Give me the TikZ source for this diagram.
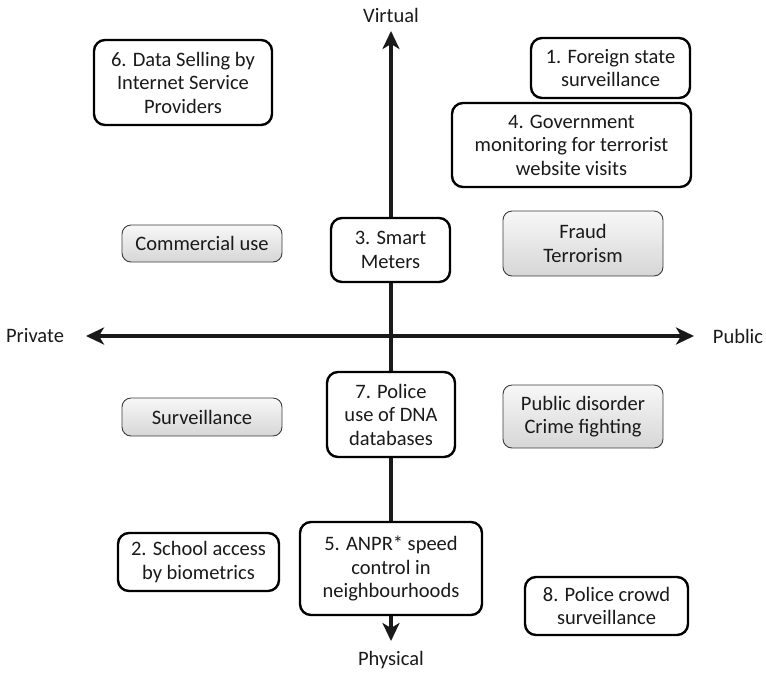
\documentclass[tikz,border=0pt]{standalone}
\usepackage{fontspec}
\setmainfont{Carlito}
\usetikzlibrary{arrows.meta}
\definecolor{ink}{HTML}{1A1A1A}
\begin{document}
\begin{tikzpicture}[x=1pt,y=-1pt,
  every node/.style={font=\fontsize{20.5}{23.5}\selectfont, text=ink, align=center, inner sep=0pt},
  casebox/.style={draw=black, line width=2.4pt, rounded corners=11pt, fill=white},
  usebox/.style={draw=ink!85, line width=0.9pt, rounded corners=9pt, top color=gray!6, bottom color=gray!32},
  axis/.style={line width=3.6pt, draw=ink, -{Stealth[length=18pt,width=17pt,inset=5pt]}}
]
\useasboundingbox (0,0) rectangle (766,673);

% axis end points
\coordinate (top) at (391,31);
\coordinate (bottom) at (391,641);
\coordinate (left) at (86,336);
\coordinate (right) at (694,336);
\coordinate (origin) at (391,336);

\draw[axis] (origin) -- (top);
\draw[axis] (origin) -- (bottom);
\draw[axis] (origin) -- (left);
\draw[axis] (origin) -- (right);

% axis labels
\node (virtual) at (391,15) {Virtual};
\node (physical) at (391,660) {Physical};
\node (private) at (35,336) {Private};
\node (public) at (738,336) {Public};

% case studies
\node[casebox, minimum width=178pt, minimum height=85pt] (c6) at (183,82.5) {6. Data Selling by\\Internet Service\\Providers};
\node[casebox, minimum width=159pt, minimum height=60pt] (c1) at (610.5,68) {1. Foreign state\\surveillance};
\node[casebox, minimum width=239pt, minimum height=84pt] (c4) at (571.5,145) {4. Government\\monitoring for terrorist\\website visits};
\node[casebox, minimum width=119pt, minimum height=64pt] (c3) at (390.5,250) {3. Smart\\Meters};
\node[casebox, minimum width=128pt, minimum height=85pt] (c7) at (391,414.5) {7. Police\\use of DNA\\databases};
\node[casebox, minimum width=161pt, minimum height=58pt] (c2) at (198.5,562) {2. School access\\by biometrics};
\node[casebox, minimum width=182pt, minimum height=93pt] (c5) at (391,568.5) {5. ANPR* speed\\control in\\neighbourhoods};
\node[casebox, minimum width=163pt, minimum height=58pt] (c8) at (606.5,606) {8. Police crowd\\surveillance};

% purposes
\node[usebox, minimum width=160pt, minimum height=37pt] (commercial) at (202,243.5) {Commercial use};
\node[usebox, minimum width=160pt, minimum height=65pt] (fraud) at (583,243.5) {Fraud\\Terrorism};
\node[usebox, minimum width=160pt, minimum height=38pt] (surv) at (202,417) {Surveillance};
\node[usebox, minimum width=160pt, minimum height=63pt] (disorder) at (583,416.5) {Public disorder\\Crime fighting};
\end{tikzpicture}
\end{document}
